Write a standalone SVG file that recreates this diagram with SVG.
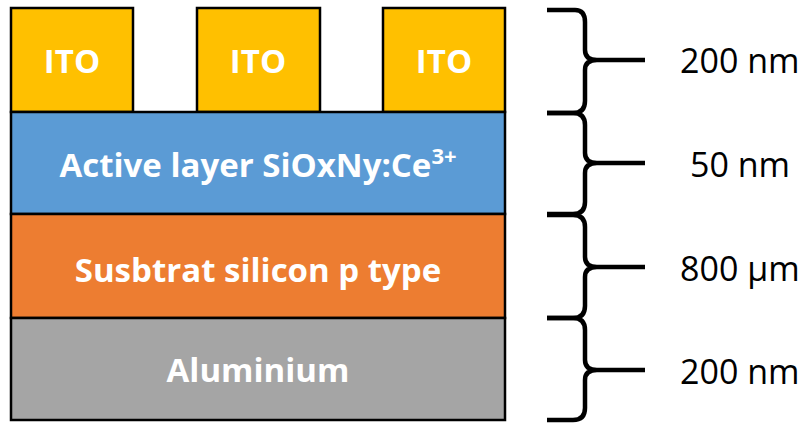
<svg xmlns="http://www.w3.org/2000/svg" width="806" height="425" viewBox="0 0 806 425">
<style>
.layer{stroke:#000;stroke-width:2.5}
.lbl{font-family:"Open Sans","Liberation Sans",sans-serif;font-weight:bold;font-size:33px;fill:#fff;text-anchor:middle}
.dim{font-family:"Open Sans","Liberation Sans",sans-serif;font-size:34px;fill:#000}
.brace{fill:none;stroke:#000;stroke-width:4.5;stroke-linejoin:round}
</style>
<rect width="806" height="425" fill="#fff"/>
<g id="ito1"><rect class="layer" x="11" y="8" width="122" height="104" fill="#FFC000"/><text class="lbl" x="72" y="73">ITO</text></g>
<g id="ito2"><rect class="layer" x="197" y="8" width="123" height="104" fill="#FFC000"/><text class="lbl" x="258" y="73">ITO</text></g>
<g id="ito3"><rect class="layer" x="383" y="8" width="122" height="104" fill="#FFC000"/><text class="lbl" x="444" y="73">ITO</text></g>
<g id="active"><rect class="layer" x="11" y="112" width="494" height="102" fill="#5B9BD5"/><text class="lbl" x="258" y="177">Active layer SiOxNy:Ce<tspan font-size="22" dy="-13">3+</tspan></text></g>
<g id="substrate"><rect class="layer" x="11" y="214" width="494" height="104" fill="#ED7D31"/><text class="lbl" x="258" y="282">Susbtrat silicon p type</text></g>
<g id="aluminium"><rect class="layer" x="11" y="318" width="494" height="102" fill="#A5A5A5"/><text class="lbl" x="258" y="382">Aluminium</text></g>
<g id="connectors">
<path class="brace" d="M547,10 H575 Q585,10 585,22 V50 Q585,60 597,60 H645 M597,60 Q585,60 585,70 V101 Q585,113 573,113 H547"/>
<path class="brace" d="M547,113 H573 Q585,113 585,125 V153 Q585,163 597,163 H645 M597,163 Q585,163 585,173 V202 Q585,214 573,214 H547"/>
<path class="brace" d="M547,215 H573 Q585,215 585,227 V257 Q585,267 597,267 H645 M597,267 Q585,267 585,277 V306 Q585,318 573,318 H547"/>
<path class="brace" d="M547,318 H573 Q585,318 585,330 V360 Q585,370 597,370 H645 M597,370 Q585,370 585,380 V408 Q585,420 573,420 H547"/>
</g>
<g id="dims">
<text class="dim" x="680" y="73">200 nm</text>
<text class="dim" x="690" y="177">50 nm</text>
<text class="dim" x="680" y="281">800 µm</text>
<text class="dim" x="680" y="384">200 nm</text>
</g>
</svg>
